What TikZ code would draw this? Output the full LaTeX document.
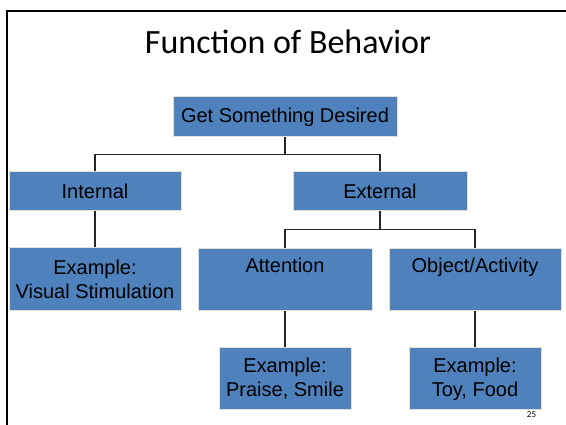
\documentclass[tikz,border=0pt]{standalone}
\usepackage{fontspec}
\setmainfont{Liberation Sans}
\newfontfamily\titlefont{Carlito}
\definecolor{boxblue}{RGB}{79,129,189}
\definecolor{boxedge}{RGB}{224,224,214}

\begin{document}
\begin{tikzpicture}[
        x=1pt, y=-1pt,
        box/.style={rectangle, draw=boxedge, fill=boxblue, line width=1pt, align=center, inner sep=3pt, font=\fontsize{20}{24}\selectfont},
        tallbox/.style={box, text height=18pt, text depth=32pt, inner ysep=6pt},
        link/.style={line width=1.2pt, draw=black!85}
    ]
        \useasboundingbox (0,0) rectangle (566,425);

        % Frame and title
        \draw[line width=2pt] (7,426) -- (7,11) -- (567,11);
        \node[anchor=base, font=\titlefont\fontsize{34}{40}\selectfont] (title) at (288,54) {Function of Behavior};

        % Nodes
        \node[box, minimum width=224pt, minimum height=40pt] (goal) at (285,117) {Get Something Desired};
        \node[box, minimum width=172pt, minimum height=39pt] (internal) at (95,191.5) {Internal};
        \node[box, minimum width=174pt, minimum height=39pt] (external) at (380,191.5) {External};
        \node[box, minimum width=172pt, minimum height=63pt] (visual) at (95,279.5) {Example:\\Visual Stimulation};
        \node[tallbox, minimum width=174pt] (attention) at (285,280) {Attention};
        \node[tallbox, minimum width=172pt] (object) at (475,280) {Object/Activity};
        \node[box, minimum width=132pt, minimum height=62pt] (praise) at (285,379) {Example:\\Praise, Smile};
        \node[box, minimum width=132pt, minimum height=62pt] (toy) at (475,379) {Example:\\Toy, Food};
        \node[anchor=base, font=\titlefont\fontsize{9}{10}\selectfont] (page) at (531.5,417.5) {25};

        % Links
        \draw[link] (goal.south) -- ++(0,17) -| (internal.north);
        \draw[link] (goal.south) -- ++(0,17) -| (external.north);
        \draw[link] (internal) -- (visual);
        \draw[link] (external.south) -- ++(0,18) -| (attention.north);
        \draw[link] (external.south) -- ++(0,18) -| (object.north);
        \draw[link] (attention) -- (praise);
        \draw[link] (object) -- (toy);

    \end{tikzpicture}
\end{document}
